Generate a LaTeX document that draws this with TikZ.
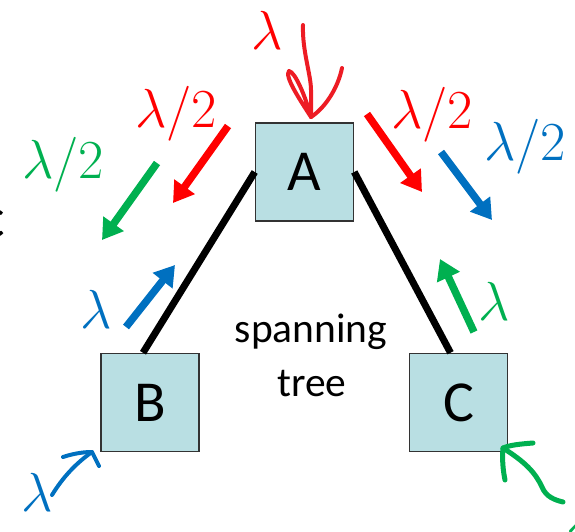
\RequirePackage{fix-cm}
\documentclass[tikz,border=0pt]{standalone}
\usepackage{fontspec}
\setmainfont{Carlito}
\usetikzlibrary{arrows.meta}
\definecolor{boxfill}{RGB}{185,223,227}
\definecolor{pptred}{RGB}{255,0,0}
\definecolor{pptblue}{RGB}{0,112,192}
\definecolor{pptgreen}{RGB}{0,176,80}
\definecolor{inkred}{RGB}{237,28,36}

\begin{document}
\begin{tikzpicture}[x=1pt, y=-1pt,
    switchbox/.style={draw=black!80, line width=1.5pt, fill=boxfill, minimum size=98pt,
        inner sep=0pt, font=\fontsize{58}{60}\selectfont},
    treeedge/.style={line width=7pt},
    flow/.style={line width=7.5pt, -{Triangle[length=20pt,width=24pt]}},
    rate/.style={anchor=base, inner sep=0pt, font=\fontsize{55}{60}\selectfont},
    ink/.style={line width=4pt, line cap=round, line join=round}]
    \useasboundingbox (0,0) rectangle (575,531);
    \clip (0,0) rectangle (575,531);

    % the three switches
    \foreach \name/\x/\y in {A/304.5/172, B/150/402.5, C/458.5/402.5} {
        \node[switchbox] (\name) at (\x,\y) {\name};
    }
    \draw[treeedge] (A.west) -- ([xshift=-7pt]B.north);
    \draw[treeedge] (A.east) -- ([xshift=-8pt]C.north);

    \node[anchor=base, inner sep=0pt, font=\fontsize{41.5}{44}\selectfont] (span) at (311,342) {spanning};
    \node[anchor=base, inner sep=0pt, font=\fontsize{41.5}{44}\selectfont] (tree) at (312,396) {tree};
    \node[anchor=base, inner sep=0pt, font=\fontsize{58}{60}\selectfont] (cut) at (-7,237) {c};

    % straight flow arrows
    \foreach \col/\n/\sx/\sy/\ex/\ey in {pptred/1/228/126/173/203, pptgreen/2/157/163/102/240,
        pptred/3/367/114/422/192, pptblue/4/441/152/492/220,
        pptblue/5/126/327/175/265, pptgreen/6/474/332/440/259} {
        \coordinate (s\n) at (\sx,\sy);
        \coordinate (e\n) at (\ex,\ey);
        \draw[flow, \col] (s\n) -- (e\n);
    }

    % rates
    \node[rate, pptred]   (rA)  at (267,49)  {$\lambda$};
    \node[rate, pptred]   (rAl) at (176,127) {$\lambda/2$};
    \node[rate, pptgreen] (gAl) at (63,178)  {$\lambda/2$};
    \node[rate, pptred]   (rAr) at (432,128) {$\lambda/2$};
    \node[rate, pptblue]  (bAr) at (525,160) {$\lambda/2$};
    \node[rate, pptblue]  (bB)  at (96,328)  {$\lambda$};
    \node[rate, pptgreen] (gC)  at (494,320) {$\lambda$};
    \node[rate, pptblue]  (bin) at (37,511)  {$\lambda$};
    \node[rate, pptgreen] (gin) at (582,532) {$\lambda$};

    % hand drawn inputs
    \coordinate (hA) at (311,117);
    \coordinate (hB) at (92,452);
    \coordinate (hC) at (503,448);
    \draw[ink, inkred] (303,25) .. controls (302,50) and (311,75) .. (311,90) -- (hA);
    \draw[ink, inkred] (hA) .. controls (300,100) and (284,76) .. (289,71)
        .. controls (295,72) and (305,95) .. (hA);
    \draw[ink, inkred] (hA) .. controls (325,108) and (338,88) .. (342,68);
    \draw[ink, pptblue] (52,495) .. controls (60,482) and (72,466) .. (hB);
    \draw[ink, pptblue] (63,457) .. controls (75,453) and (85,452) .. (hB) -- (99,466);
    \draw[ink, pptgreen, line width=5pt] (hC) .. controls (525,462) and (535,472) .. (542,487)
        .. controls (546,497) and (555,500) .. (563,502);
    \draw[ink, pptgreen, line width=5pt] (533,443) .. controls (520,444) and (510,445) .. (hC)
        .. controls (502,460) and (503,470) .. (505,480);
\end{tikzpicture}
\end{document}
